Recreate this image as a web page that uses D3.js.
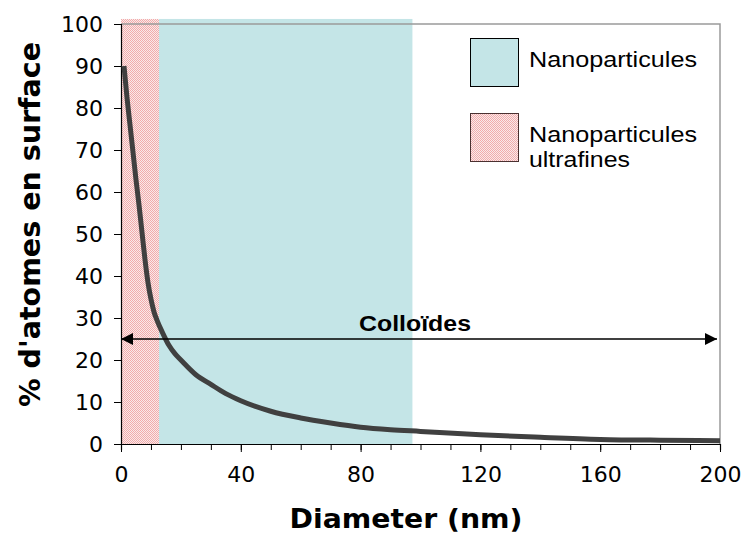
<!DOCTYPE html>
<html><head><meta charset="utf-8">
<script src="https://cdn.jsdelivr.net/npm/d3@7/dist/d3.min.js"></script>
<style>html,body{margin:0;padding:0;background:#fff;}svg{display:block;}</style>
</head><body>
<svg id="chart" width="741" height="536"></svg>
<script>
// ---- data ----
const diameters  = [1, 2, 3, 4, 5, 6, 7, 8, 9, 10, 11, 12, 14, 16, 18, 20, 25, 30, 35, 40, 50, 60, 70, 80, 90, 100, 120, 140, 160, 180, 200];
const surfacePct = [90, 82.5, 76, 69.5, 63, 57, 50.5, 44, 38.5, 34.5, 31.5, 29.5, 26.3, 23.5, 21.5, 20, 16.5, 14.2, 12, 10.3, 7.8, 6.2, 5.0, 4.0, 3.4, 3.0, 2.2, 1.6, 1.1, 0.9, 0.8];
const regionNames  = ["Nanoparticules ultrafines", "Nanoparticules"];
const regionStarts = [0, 12.7];
const regionEnds   = [12.7, 97.3];
const regionTop    = 101.2;
const arrowLabel = "Colloïdes";
const arrowValue = 25;
const arrowFrom = 0, arrowTo = 199;
const xTicks = [0, 40, 80, 120, 160, 200];
const xMinorTicks = d3.range(0, 201, 10);
const yTicks = [0, 10, 20, 30, 40, 50, 60, 70, 80, 90, 100];
const legendLines = [["Nanoparticules"], ["Nanoparticules", "ultrafines"]];
const xTitle = "Diameter (nm)";
const yTitle = "% d'atomes en surface";

// ---- layout ----
const svg = d3.select("#chart");
const L = 121, R = 720, T = 24, B = 444;
const x = d3.scaleLinear().domain([0, 200]).range([L, R]);
const y = d3.scaleLinear().domain([0, 100]).range([B, T]);

const defs = svg.append("defs");
const pat = defs.append("pattern").attr("id", "pinkchk").attr("patternUnits", "userSpaceOnUse")
  .attr("width", 2).attr("height", 2);
pat.append("rect").attr("width", 2).attr("height", 2).attr("fill", "#f9eaea");
pat.append("rect").attr("width", 1).attr("height", 1).attr("fill", "#f2abab");
pat.append("rect").attr("x", 1).attr("y", 1).attr("width", 1).attr("height", 1).attr("fill", "#f2abab");

const regionFills = ["url(#pinkchk)", "#c4e5e7"];

// regions
svg.append("g").selectAll("rect").data(regionNames).join("rect")
  .attr("x", (d, i) => x(regionStarts[i]))
  .attr("width", (d, i) => x(regionEnds[i]) - x(regionStarts[i]))
  .attr("y", y(regionTop))
  .attr("height", y(0) - y(regionTop))
  .attr("fill", (d, i) => regionFills[i]);

// frame top & right (gray)
svg.append("path")
  .attr("d", `M${L},${T}H${R}V${B}`)
  .attr("fill", "none").attr("stroke", "#9a9a9a").attr("stroke-width", 1.5);

// axes
const xAxisMinor = d3.axisBottom(x).tickValues(xMinorTicks).tickSize(6).tickFormat("");
svg.append("g").attr("transform", `translate(0,${B})`).call(xAxisMinor)
  .call(g => g.select(".domain").attr("stroke", "#000").attr("stroke-width", 1.2))
  .call(g => g.selectAll(".tick line").attr("stroke", "#000"));
const xAxis = d3.axisBottom(x).tickValues(xTicks).tickSize(8).tickPadding(14).tickFormat(d3.format("d"));
svg.append("g").attr("transform", `translate(0,${B})`).call(xAxis)
  .call(g => g.select(".domain").remove())
  .call(g => g.selectAll(".tick line").attr("stroke", "#000"))
  .call(g => g.selectAll(".tick text").attr("font-family", "DejaVu Sans").attr("font-size", 22).attr("fill", "#000"));

const yAxis = d3.axisLeft(y).tickValues(yTicks).tickSize(7).tickPadding(11).tickFormat(d3.format("d"));
svg.append("g").attr("transform", `translate(${L},0)`).call(yAxis)
  .call(g => g.select(".domain").attr("stroke", "#000").attr("stroke-width", 1.2))
  .call(g => g.selectAll(".tick line").attr("stroke", "#000"))
  .call(g => g.selectAll(".tick text").attr("font-family", "DejaVu Sans").attr("font-size", 22).attr("fill", "#000"));

// curve
const pts = diameters.map((d, i) => [d, surfacePct[i]]);
svg.append("path").datum(pts)
  .attr("d", d3.line().x(d => x(d[0])).y(d => y(d[1])).curve(d3.curveMonotoneX))
  .attr("fill", "none").attr("stroke", "#404040").attr("stroke-width", 5)
  .attr("stroke-linejoin", "round");

// arrow
defs.append("marker").attr("id", "ah").attr("viewBox", "0 0 12 12")
  .attr("refX", 12).attr("refY", 6).attr("markerWidth", 12).attr("markerHeight", 12)
  .attr("markerUnits", "userSpaceOnUse").attr("orient", "auto-start-reverse")
  .append("path").attr("d", "M0,0L12,6L0,12Z").attr("fill", "#000");
svg.append("line")
  .attr("x1", x(arrowFrom)).attr("x2", x(arrowTo))
  .attr("y1", y(arrowValue)).attr("y2", y(arrowValue))
  .attr("stroke", "#000").attr("stroke-width", 1.5)
  .attr("marker-start", "url(#ah)").attr("marker-end", "url(#ah)");
svg.append("text").text(arrowLabel)
  .attr("x", 415).attr("y", 331).attr("text-anchor", "middle")
  .attr("font-family", "Liberation Sans, Arial, sans-serif").attr("font-weight", "bold")
  .attr("font-size", 22).attr("textLength", 112).attr("lengthAdjust", "spacingAndGlyphs");

// legend
const legY = [38, 113];
const legFills = ["#c4e5e7", "url(#pinkchk)"];
const legStroke = ["#000", "#4a3030"];
const legTextY = [[67], [142, 167]];
const legTextLen = {"Nanoparticules": 168, "ultrafines": 101};
const lg = svg.append("g");
legendLines.forEach((lines, i) => {
  lg.append("rect").attr("x", 470.5).attr("y", legY[i] + 0.5).attr("width", 48).attr("height", 48)
    .attr("fill", legFills[i]).attr("stroke", legStroke[i]).attr("stroke-width", 1);
  lines.forEach((t, j) => {
    lg.append("text").text(t).attr("x", 529).attr("y", legTextY[i][j])
      .attr("font-family", "Liberation Sans, Arial, sans-serif").attr("font-size", 22)
      .attr("textLength", legTextLen[t]).attr("lengthAdjust", "spacingAndGlyphs");
  });
});

// titles
svg.append("text").text(xTitle)
  .attr("x", 406).attr("y", 528).attr("text-anchor", "middle")
  .attr("font-family", "DejaVu Sans").attr("font-weight", "bold").attr("font-size", 26)
  .attr("textLength", 233).attr("lengthAdjust", "spacingAndGlyphs");
svg.append("text").text(yTitle)
  .attr("transform", "translate(40,224.5) rotate(-90)").attr("text-anchor", "middle")
  .attr("font-family", "DejaVu Sans").attr("font-weight", "bold").attr("font-size", 29)
  .attr("textLength", 365).attr("lengthAdjust", "spacingAndGlyphs");
</script>
</body></html>
